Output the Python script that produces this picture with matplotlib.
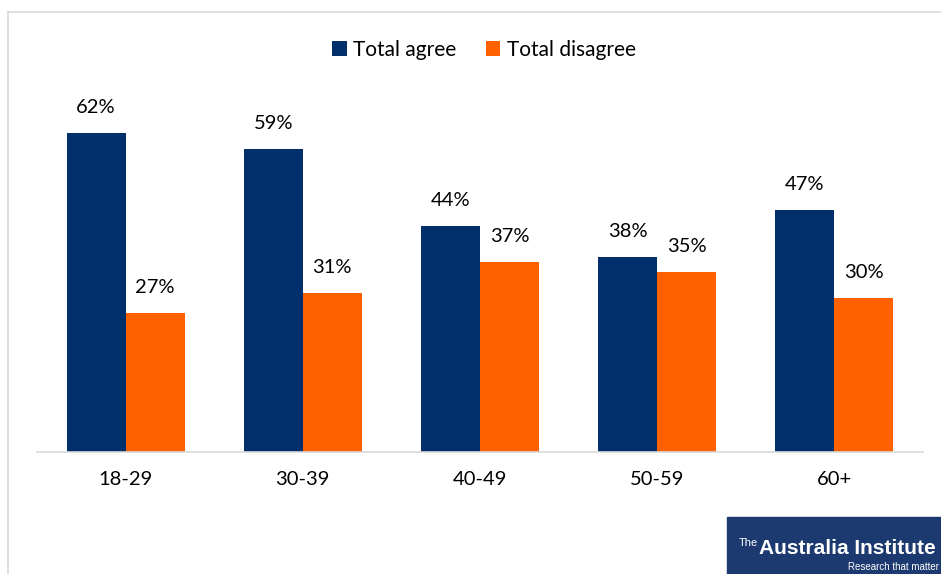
import matplotlib.pyplot as plt
from matplotlib.patches import Rectangle
import numpy as np

plt.rcParams['font.family'] = ['Lato', 'DejaVu Sans']

age_groups = ['18-29', '30-39', '40-49', '50-59', '60+']
agree = [62, 59, 44, 38, 47]
disagree = [27, 31, 37, 35, 30]

navy = '#002F6C'
orange = '#FF6000'

fig = plt.figure(figsize=(9.41, 5.74), dpi=100)
ax = fig.add_axes([37 / 941, 122 / 574, 886 / 941, 360 / 574])

x = np.arange(len(age_groups))
w = 1 / 3
b1 = ax.bar(x - w / 2, agree, w, color=navy, label='Total agree')
b2 = ax.bar(x + w / 2, disagree, w, color=orange, label='Total disagree')

for bars, vals in [(b1, agree), (b2, disagree)]:
    for r, v in zip(bars, vals):
        ax.text(r.get_x() + r.get_width() / 2, v + 3.3, f'{v}%',
                ha='center', va='bottom', fontsize=14.5)

ax.set_xlim(-0.5, len(age_groups) - 0.5)
ax.set_ylim(0, 70)
ax.set_xticks(x)
ax.set_xticklabels(age_groups, fontsize=14.5)
ax.tick_params(axis='x', length=0, pad=14)
ax.set_yticks([])
for s in ['top', 'right', 'left']:
    ax.spines[s].set_visible(False)
ax.spines['bottom'].set_color('#d9d9d9')
ax.spines['bottom'].set_linewidth(1.2)

fig.legend(loc='center', bbox_to_anchor=(484 / 941, 1 - 50 / 574), ncol=2,
           frameon=False, fontsize=15, handlelength=0.7, handleheight=0.7,
           handletextpad=0.3, columnspacing=1.4)

# chart-area border (left and top edges)
fig.add_artist(plt.Line2D([8 / 941, 8 / 941], [0, 1 - 12 / 574], color='#d9d9d9', lw=1.2))
fig.add_artist(plt.Line2D([8 / 941, 1], [1 - 12 / 574, 1 - 12 / 574], color='#d9d9d9', lw=1.2))

# logo block
logo_font = ['Liberation Sans Narrow', 'Liberation Sans']
fig.add_artist(Rectangle((727 / 941, 0), 214 / 941, 57 / 574, transform=fig.transFigure,
                         color='#1d3a70', zorder=5))
fig.text(739 / 941, 1 - 546 / 574, 'The', color='white', fontsize=8, va='baseline',
         family=logo_font, zorder=6)
fig.text(759 / 941, 1 - 554 / 574, 'Australia Institute', color='white', fontsize=15,
         fontweight='bold', va='baseline', family=logo_font, zorder=6)
fig.text(939 / 941, 1 - 570 / 574, 'Research that matter', color='white', fontsize=7,
         ha='right', va='baseline', family=logo_font, zorder=6)

fig.savefig('out.png', dpi=100)
